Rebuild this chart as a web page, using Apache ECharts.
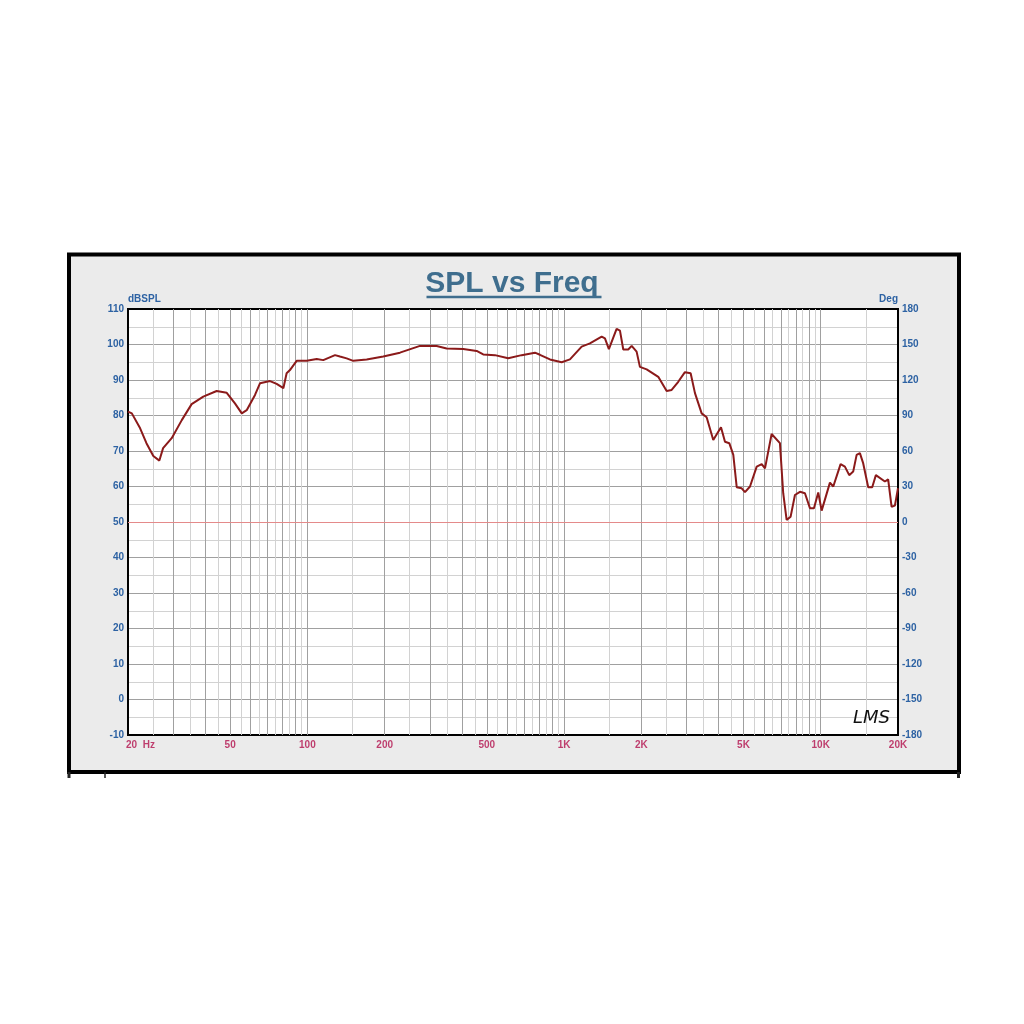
<!DOCTYPE html>
<html><head><meta charset="utf-8">
<script src="https://cdn.jsdelivr.net/npm/echarts@6/dist/echarts.min.js"></script>
<style>html,body{margin:0;padding:0;background:#fff}#c{width:1024px;height:1024px}</style>
</head><body><div id="c"></div>
<script>
// ---- data ----
const freqHz = [20, 20.7, 22.3, 23.6, 25.1, 26.5, 26.8, 27.4, 29.6, 32.4, 35.4, 39.3, 44.3, 48.5, 52.2, 55.5, 58.0, 62.5, 65.4, 71.5, 75.9, 80.6, 83.0, 85.5, 90.8, 99.4, 108.7, 115.3, 128.1, 133.9, 142.2, 150.9, 170.2, 197.5, 229.4, 274.5, 318.9, 348.8, 404.8, 456.4, 484.2, 537.9, 605.9, 683.6, 769.8, 805.4, 881, 978.6, 1054, 1171, 1261, 1401, 1443, 1495, 1602, 1651, 1701, 1779, 1834, 1917, 1975, 2098, 2328, 2510, 2625, 2785, 2957, 3113, 3236, 3436, 3593, 3813, 4087, 4236, 4403, 4564, 4706, 4921, 5069, 5302, 5630, 5889, 6065, 6437, 6934, 7142, 7364, 7633, 7935, 8298, 8679, 9077, 9409, 9780, 10083, 10860, 11190, 11950, 12420, 12910, 13380, 13800, 14210, 14640, 15310, 15870, 16400, 17780, 18310, 18880, 19450, 20000];
const splDb = [81.1, 80.6, 76.4, 72.2, 68.6, 67.3, 67.0, 70.8, 73.6, 78.7, 83.2, 85.3, 86.9, 86.4, 83.4, 80.6, 81.5, 85.8, 89.1, 89.7, 88.9, 87.7, 91.9, 92.8, 95.4, 95.4, 95.9, 95.6, 97.0, 96.6, 96.1, 95.4, 95.8, 96.6, 97.7, 99.6, 99.6, 98.9, 98.7, 98.2, 97.2, 97.0, 96.1, 97.0, 97.7, 97.1, 95.8, 95.0, 95.8, 99.4, 100.3, 102.2, 101.7, 98.7, 104.4, 103.9, 98.6, 98.6, 99.6, 98.0, 93.7, 93.0, 90.9, 86.9, 87.2, 89.5, 92.2, 91.9, 86.3, 80.6, 79.5, 73.1, 76.7, 72.6, 72.2, 68.9, 59.8, 59.5, 58.4, 60.0, 65.6, 66.3, 65.1, 74.8, 72.2, 58.1, 50.6, 51.5, 57.6, 58.5, 58.1, 53.9, 53.9, 58.3, 53.2, 61.1, 60.0, 66.3, 65.6, 63.2, 64.2, 68.9, 69.4, 66.5, 59.8, 59.8, 63.2, 61.4, 62.0, 54.3, 54.6, 59.5];
const xLabelValues = [20, 50, 100, 200, 500, 1000, 2000, 5000, 10000, 20000];
const xLabelTexts = ['20  Hz', '50', '100', '200', '500', '1K', '2K', '5K', '10K', '20K'];
const splMin = -10, splMax = 110, splStep = 10;
const degMin = -180, degMax = 180, degStep = 30;
const referenceDb = 50;

// ---- log grid lines (every half step of each decade) ----
const majorX = [], minorX = [];
[10, 100, 1000, 10000].forEach(function (d) {
  for (let m = 1.5; m <= 10; m += 0.5) {
    const v = Math.round(m * d);
    if (v <= 20 || v >= 20000) continue;
    if (m % 1 === 0) majorX.push(v); else minorX.push(v);
  }
});

const FONT = "'Liberation Sans', Arial, sans-serif";
const BLUE = '#2d62a3', CRIMSON = '#b3124d';
const MAJOR = '#a0a0a0', MINOR = '#d2d2d2';

const chart = echarts.init(document.getElementById('c'), null, { renderer: 'canvas' });
const lbl = { fontFamily: FONT, fontSize: 10, fontWeight: 'bold' };

const option = {
  backgroundColor: '#ffffff',
  animation: false,
  title: {
    text: 'SPL vs Freq', left: 'center', top: 264,
    textStyle: { fontFamily: FONT, fontSize: 30, fontWeight: 'bold', color: '#3f6e8e' }
  },
  grid: { left: 128, right: 126, top: 309, bottom: 289, show: true, backgroundColor: '#ffffff', borderColor: '#000', borderWidth: 2 },
  xAxis: [
    { type: 'log', logBase: 10, min: 20, max: 20000,
      axisLine: { show: true, onZero: false, lineStyle: { color: '#000', width: 2 } },
      axisTick: { show: false }, axisLabel: { show: false }, splitLine: { show: false } },
    { type: 'log', logBase: 10, min: 20, max: 20000, position: 'top',
      axisLine: { show: true, onZero: false, lineStyle: { color: '#000', width: 2 } },
      axisTick: { show: false }, axisLabel: { show: false }, splitLine: { show: false } }
  ],
  yAxis: [
    { type: 'value', min: splMin, max: splMax, interval: splStep,
      name: 'dBSPL', nameLocation: 'end', nameGap: 3,
      nameTextStyle: Object.assign({ align: 'left', color: BLUE }, lbl),
      axisLine: { show: true, lineStyle: { color: '#000', width: 2 } },
      axisTick: { show: false },
      axisLabel: Object.assign({ color: BLUE, margin: 4 }, lbl),
      splitLine: { show: true, lineStyle: { color: MAJOR, width: 1 } },
      minorTick: { show: false, splitNumber: 2 },
      minorSplitLine: { show: true, lineStyle: { color: MINOR, width: 1 } } },
    { type: 'value', min: degMin, max: degMax, interval: degStep, position: 'right',
      name: 'Deg', nameLocation: 'end', nameGap: 3,
      nameTextStyle: Object.assign({ align: 'right', color: BLUE }, lbl),
      axisLine: { show: true, lineStyle: { color: '#000', width: 2 } },
      axisTick: { show: false },
      axisLabel: Object.assign({ color: BLUE, margin: 4 }, lbl),
      splitLine: { show: false } }
  ],
  series: [
    { type: 'line', name: 'gridlines', data: [], z: 1, silent: true,
      markLine: {
        silent: true, symbol: ['none', 'none'], label: { show: false }, animation: false,
        data: minorX.map(function (v) { return { xAxis: v, lineStyle: { color: MINOR, width: 1, type: 'solid' } }; })
          .concat(majorX.map(function (v) { return { xAxis: v, lineStyle: { color: MAJOR, width: 1, type: 'solid' } }; }))
          .concat([{ yAxis: referenceDb, lineStyle: { color: '#e48a8a', width: 1, type: 'solid' } }])
      } },
    { type: 'line', name: 'SPL', z: 5, showSymbol: false, smooth: false,
      data: freqHz.map(function (f, i) { return [f, splDb[i]]; }),
      lineStyle: { color: '#8b1a1a', width: 2 } },
    { type: 'scatter', name: 'xlabels', z: 6, silent: true, clip: false, symbolSize: 1,
      itemStyle: { color: 'rgba(0,0,0,0)' },
      data: xLabelValues.map(function (v, i) {
        const item = { value: [v, splMin] };
        if (i === 0) item.label = { align: 'left', offset: [-2, 0] };
        return item;
      }),
      label: Object.assign({ show: true, position: 'bottom', distance: 5, color: CRIMSON,
        formatter: function (p) { return xLabelTexts[p.dataIndex]; } }, lbl) }
  ],
  graphic: { elements: [
    { type: 'rect', z: -100, shape: { x: 69, y: 254.5, width: 890, height: 517.5 },
      style: { fill: '#ebebeb', stroke: '#000', lineWidth: 4 } },
    { type: 'line', z: -99, shape: { x1: 69, y1: 772, x2: 69, y2: 778 }, style: { stroke: '#222', lineWidth: 3 } },
    { type: 'line', z: -99, shape: { x1: 958.5, y1: 772, x2: 958.5, y2: 778 }, style: { stroke: '#222', lineWidth: 3 } },
    { type: 'line', z: -99, shape: { x1: 105, y1: 772, x2: 105, y2: 778 }, style: { stroke: '#222', lineWidth: 1.5 } },
    { type: 'line', z: 10, shape: { x1: 426.5, y1: 297, x2: 601.5, y2: 297 }, style: { stroke: '#3f6e8e', lineWidth: 2.5 } },
    { type: 'text', z: 10, x: 853, y: 709,
      style: { text: 'LMS', font: "italic 18px 'DejaVu Sans'", fill: '#111' } }
  ] }
};
chart.setOption(option);
</script></body></html>
